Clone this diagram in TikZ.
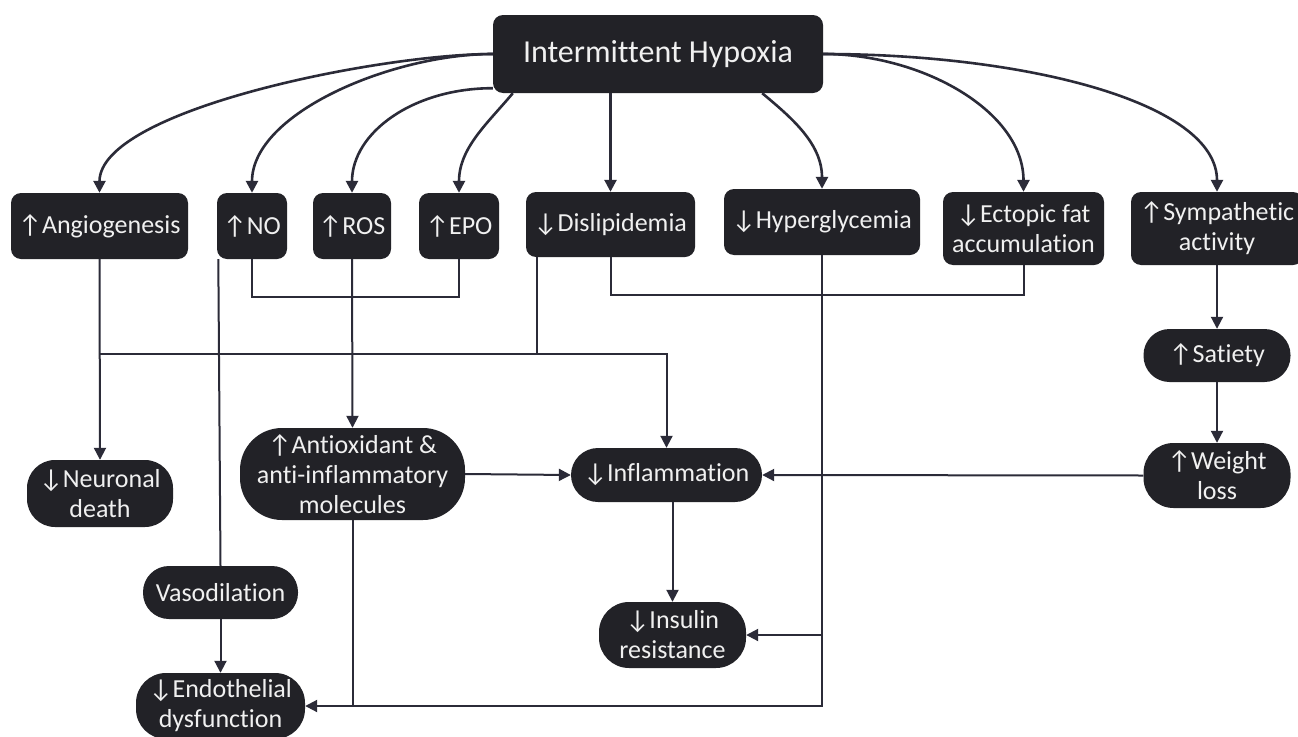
\documentclass[tikz,border=0pt]{standalone}
\usepackage{fontspec}
\setmainfont{Carlito}[Ligatures=NoCommon]
\newfontfamily\arrfont{Carlito}
\usetikzlibrary{arrows.meta}
\definecolor{boxc}{HTML}{222227}
\definecolor{linec}{HTML}{2B2B38}
\definecolor{txtc}{HTML}{F0F0F0}
\newcommand\upar{{\arrfont\char"2191}}
\newcommand\dnar{{\arrfont\char"2193}}
\begin{document}
\begin{tikzpicture}[x=1pt,y=-1pt,
  box/.style={fill=boxc, text=txtc, align=center, inner sep=0pt,
    font=\fontsize{26}{30}\selectfont, rounded corners=10pt},
  sz/.style 2 args={minimum width=#1pt, minimum height=#2pt},
  rc/.style={rounded corners=#1pt},
  conn/.style={draw=linec, line width=2pt},
  arr/.style={conn, -{Triangle[length=12pt,width=12pt]}},
  curv/.style={arr, line width=2.6pt}]
\fill[white] (0,0) rectangle (1298,736);
\useasboundingbox (0,0) rectangle (1298,736);
% top
\node[box, sz={330}{78}, font=\fontsize{32}{36}\selectfont] (IH) at (658,54) {Intermittent Hypoxia};
% row 2
\node[box, sz={177}{66}] (Angio) at (99.5,226) {\upar Angiogenesis};
\node[box, sz={70}{66}] (NO) at (252,226) {\upar NO};
\node[box, sz={78}{66}] (ROS) at (352,226) {\upar ROS};
\node[box, sz={80}{66}] (EPO) at (459,226) {\upar EPO};
\node[box, sz={169}{65}] (Disl) at (610.5,224.5) {\dnar Dislipidemia};
\node[box, sz={196}{66}] (Hyper) at (822,222) {\dnar Hyperglycemia};
\node[box, sz={161}{73}] (Ectopic) at (1023.5,228.5) {\dnar Ectopic fat\\accumulation};
\node[box, sz={172}{73}] (Symp) at (1217,228.5) {\upar Sympathetic\\activity};
% lower
\node[box, sz={146}{67}, rc=28] (Neuronal) at (100,493.5) {\dnar Neuronal\\death};
\node[box, sz={225}{92}, rc=42] (Antiox) at (352.5,474) {\upar Antioxidant \&\\anti-inflammatory\\molecules};
\node[box, sz={191}{54}, rc=27] (Inflam) at (666.5,475) {\dnar Inflammation};
\node[box, sz={147}{66}, rc=30] (Insulin) at (672.5,635) {\dnar Insulin\\resistance};
\node[box, sz={155}{53}, rc=26] (Vaso) at (220.5,592.5) {Vasodilation};
\node[box, sz={169}{66}, rc=30] (Endo) at (220.5,706) {\dnar Endothelial\\dysfunction};
\node[box, sz={147}{53}, rc=26] (Satiety) at (1217,355.5) {\upar Satiety};
\node[box, sz={147}{65}, rc=30] (Weight) at (1217,475.5) {\upar Weight\\loss};
% curved connectors from the top
\draw[curv] (IH.west) .. controls +(-113,0) and +(0,-83) .. (Angio.north);
\draw[curv] (IH.west) .. controls +(-100,0) and +(0,-80) .. (NO.north);
\draw[curv] ([yshift=5pt]IH.south west) .. controls +(-80,0) and +(0,-60) .. (ROS.north);
\draw[curv] ([xshift=20pt]IH.south west) .. controls +(-25,30) and +(0,-45) .. (EPO.north);
\draw[curv] (Disl.north |- IH.south) -- (Disl.north);
\draw[curv] ([xshift=-61pt]IH.south east) .. controls +(30,25) and +(0,-45) .. (Hyper.north);
\draw[curv] (IH.east) .. controls +(100,0) and +(0,-80) .. (Ectopic.north);
\draw[curv] (IH.east) .. controls +(200,0) and +(0,-90) .. (Symp.north);
% lower connectors
\draw[arr] (Angio.south) -- (Neuronal.north);
\draw[arr] ([xshift=11pt]Disl.south west) -- ++(0,97) coordinate (j1) -| (Inflam.north);
\draw[conn] (j1) -- (Angio.south |- j1);
\draw[conn] (NO.south) -- ++(0,38) -| (EPO.south);
\draw[arr] (ROS.south) -- (Antiox.north);
\draw[conn] ([xshift=1.5pt]NO.south west) -- (Vaso.north);
\draw[arr] (Vaso.south) -- (Endo.north);
\draw[arr] (Antiox.east) -- (Inflam.west);
\draw[conn] (Antiox.south) -- (Antiox.south |- Endo.east);
\draw[arr] (Hyper.south) |- (Endo.east);
\draw[arr] (Hyper.south |- Insulin.east) -- (Insulin.east);
\draw[conn] (Disl.south) -- ++(0,38) -| (Ectopic.south);
\draw[arr] (Symp.south) -- (Satiety.north);
\draw[arr] (Satiety.south) -- (Weight.north);
\draw[arr] (Weight.west) -- (Inflam.east);
\draw[arr] (Insulin.north |- Inflam.south) -- (Insulin.north);
\end{tikzpicture}
\end{document}
